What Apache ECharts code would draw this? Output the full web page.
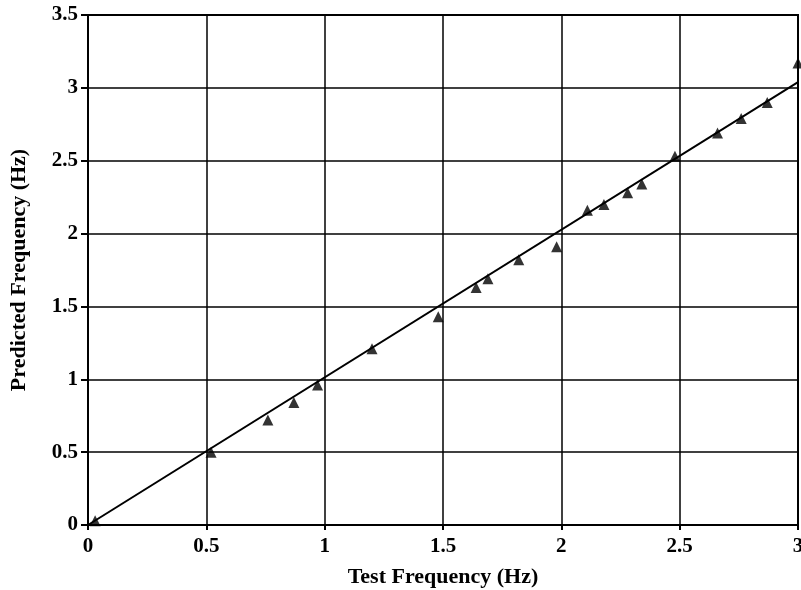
<!DOCTYPE html>
<html>
<head>
<meta charset="utf-8">
<script src="https://cdn.jsdelivr.net/npm/echarts@6/dist/echarts.min.js"></script>
<style>html,body{margin:0;padding:0;background:#fff}#c{width:801px;height:590px}</style>
</head>
<body>
<div id="c"></div>
<script>
var testFreq = [0.03, 0.52, 0.76, 0.87, 0.97, 1.20, 1.48, 1.64, 1.69, 1.82, 1.98, 2.11, 2.18, 2.28, 2.34, 2.48, 2.66, 2.76, 2.87, 3.00];
var predFreq = [0.03, 0.50, 0.72, 0.84, 0.96, 1.21, 1.43, 1.63, 1.69, 1.82, 1.91, 2.16, 2.20, 2.28, 2.34, 2.53, 2.69, 2.79, 2.90, 3.17];
var fitX = [0, 3];
var fitY = [0, 3.04];
var xTicks = ['0', '0.5', '1', '1.5', '2', '2.5', '3'];
var yTicks = ['0', '0.5', '1', '1.5', '2', '2.5', '3', '3.5'];

var chart = echarts.init(document.getElementById('c'));
var font = 'Liberation Serif';
chart.setOption({
  animation: false,
  grid: {left: 88, right: 3, top: 15, bottom: 65, containLabel: false, outerBoundsMode: 'none',
    show: true, borderColor: '#000', borderWidth: 2},
  xAxis: {
    type: 'value', min: 0, max: 3, interval: 0.5,
    name: 'Test Frequency (Hz)', nameLocation: 'middle', nameGap: 41,
    nameTextStyle: {fontFamily: font, fontWeight: 'bold', fontSize: 22, color: '#000'},
    axisLine: {show: true, lineStyle: {color: '#000', width: 2}},
    axisTick: {show: true, length: 5, lineStyle: {color: '#000', width: 2}},
    axisLabel: {margin: 11, fontFamily: font, fontWeight: 'bold', fontSize: 21, color: '#000',
      formatter: function (v) { return xTicks[Math.round(v / 0.5)]; }},
    splitLine: {show: true, lineStyle: {color: '#000', width: 1.5}}
  },
  yAxis: {
    type: 'value', min: 0, max: 3.5, interval: 0.5,
    name: 'Predicted Frequency (Hz)', nameLocation: 'middle', nameGap: 58,
    nameTextStyle: {fontFamily: font, fontWeight: 'bold', fontSize: 22, color: '#000'},
    axisLine: {show: true, lineStyle: {color: '#000', width: 2}},
    axisTick: {show: true, length: 7, lineStyle: {color: '#000', width: 2}},
    axisLabel: {margin: 10, fontFamily: font, fontWeight: 'bold', fontSize: 21, color: '#000',
      formatter: function (v) { return yTicks[Math.round(v / 0.5)]; }},
    splitLine: {show: true, lineStyle: {color: '#000', width: 1.5}}
  },
  series: [
    {
      type: 'line', data: fitX.map(function (x, i) { return [x, fitY[i]]; }),
      showSymbol: false, symbol: 'none', lineStyle: {color: '#000', width: 2}, z: 3
    },
    {
      type: 'scatter', data: testFreq.map(function (x, i) { return [x, predFreq[i]]; }),
      symbol: 'triangle', symbolSize: 11, itemStyle: {color: '#000'}, z: 4, clip: false
    }
  ]
});
</script>
</body>
</html>
